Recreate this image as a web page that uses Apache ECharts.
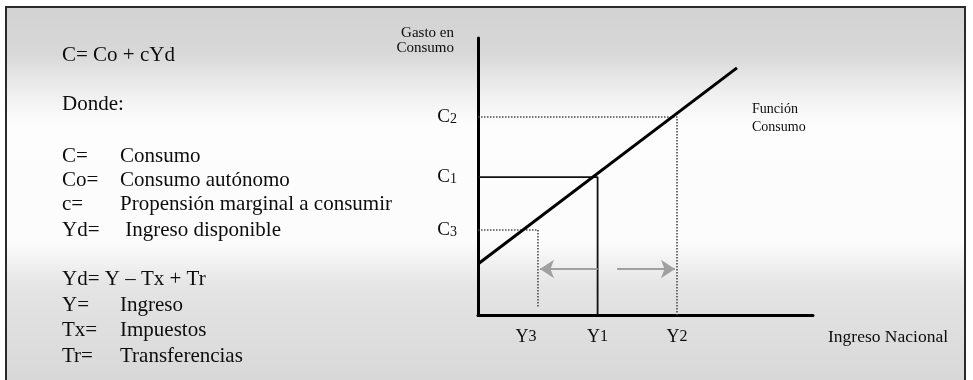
<!DOCTYPE html>
<html>
<head>
<meta charset="utf-8">
<script src="https://cdn.jsdelivr.net/npm/echarts@6/dist/echarts.min.js"></script>
<style>
  html, body { margin: 0; padding: 0; background: #ffffff; }
  #chart { width: 973px; height: 380px; }
</style>
</head>
<body>
<div id="chart"></div>
<script>
// ---- Data (in arbitrary 0-100 units) ----
const xLevelNames = ['Y3', 'Y1', 'Y2'];
const xLevels = [17.9, 35.7, 59.4];
const yLevelNames = ['C3', 'C1', 'C2'];
const yLevels = [30.7, 49.8, 71.5];
const consumptionLine = [[0, 18.4], [77.3, 89.2]];
const c1Guide = [[0, 49.8], [35.7, 49.8], [35.7, 0]];
const c2Guide = [[0, 71.5], [59.4, 71.5], [59.4, 0]];
const c3Guide = [[0, 30.7], [17.9, 30.7], [17.9, 2.9]];
const leftArrow = [[35.7, 16.6], [18.5, 16.6]];
const rightArrow = [[41.5, 16.6], [58.8, 16.6]];
const xAxisTitle = 'Ingreso Nacional';
const yAxisTitle = 'Gasto en\nConsumo';
const curveTitle = 'Función\nConsumo';

// ---- Text block on the left ----
const formulaMain = 'C= Co + cYd';
const dondeText = 'Donde:';
const defsA = [['C=', 'Consumo'], ['Co=', 'Consumo autónomo'], ['c=', 'Propensión marginal a consumir'], ['Yd=', ' Ingreso disponible']];
const formulaB = 'Yd= Y – Tx + Tr';
const defsB = [['Y=', 'Ingreso'], ['Tx=', 'Impuestos'], ['Tr=', 'Transferencias']];

const SERIF = "'Liberation Serif', 'Times New Roman', 'DejaVu Serif', serif";
const INK = '#0d0d0d';
const chart = echarts.init(document.getElementById('chart'), null, { renderer: 'canvas' });

function nearestIndex(v, levels) {
  let best = 0;
  for (let i = 1; i < levels.length; i++) {
    if (Math.abs(levels[i] - v) < Math.abs(levels[best] - v)) best = i;
  }
  return best;
}
function yName(v) {
  const n = yLevelNames[nearestIndex(v, yLevels)];
  return '{b|' + n.charAt(0) + '}{s|' + n.slice(1) + '}';
}
function xName(v) {
  const i = nearestIndex(v, xLevels);
  const n = xLevelNames[i];
  // first label sits a little left of its guide line in the reference
  return '{b|' + n.charAt(0) + '}{' + (i === 0 ? 'sl' : 's') + '|' + n.slice(1) + '}';
}

// layout of left text block
const textEls = [];
function addText(x, y, str) {
  textEls.push({
    type: 'text', x: x, y: y, z: 100,
    style: { text: str, font: '21px ' + SERIF, fill: INK, verticalAlign: 'middle', align: 'left' }
  });
}
addText(62, 55, formulaMain);
addText(62, 104, dondeText);
const rowsA = [156, 180.5, 204, 230];
defsA.forEach((d, i) => { addText(62, rowsA[i], d[0]); addText(120, rowsA[i], d[1]); });
addText(62, 279, formulaB);
const rowsB = [305, 330, 356];
defsB.forEach((d, i) => { addText(62, rowsB[i], d[0]); addText(120, rowsB[i], d[1]); });

textEls.push({
  type: 'text', x: 752, y: 100, z: 100,
  style: { text: curveTitle, font: '14px ' + SERIF, fill: INK, lineHeight: 18, verticalAlign: 'top', align: 'left' }
});

const background = {
  type: 'rect', z: -10,
  shape: { x: 6, y: 7, width: 959, height: 390 },
  style: {
    fill: new echarts.graphic.LinearGradient(0, 0, 0, 1, [
      { offset: 0, color: '#d2d2d2' },
      { offset: 0.12, color: '#d8d8d8' },
      { offset: 0.22, color: '#efefef' },
      { offset: 0.3, color: '#fdfdfd' },
      { offset: 0.6, color: '#fcfcfc' },
      { offset: 0.72, color: '#e4e4e4' },
      { offset: 1, color: '#d6d6d6' }
    ]),
    stroke: '#2a2a2a', lineWidth: 2
  }
};

const dotted = { color: '#4a4a4a', width: 1.6, type: [1.5, 1.5] };

chart.setOption({
  animation: false,
  backgroundColor: '#ffffff',
  graphic: [background].concat(textEls),
  grid: { left: 478, right: 160, top: 38, bottom: 65, containLabel: false },
  xAxis: {
    type: 'value', min: 0, max: 100,
    splitLine: { show: false },
    axisTick: { show: false },
    axisLine: { lineStyle: { color: '#000', width: 3 } },
    axisLabel: {
      customValues: xLevels,
      formatter: xName,
      margin: 13,
      rich: {
        b: { fontSize: 18, fontFamily: SERIF, color: INK },
        s: { fontSize: 16, fontFamily: SERIF, color: INK },
        sl: { fontSize: 16, fontFamily: SERIF, color: INK, padding: [0, 24, 0, 0] }
      }
    },
    name: xAxisTitle,
    nameLocation: 'end',
    nameGap: 15,
    nameTextStyle: { fontSize: 17.5, fontFamily: SERIF, color: INK, verticalAlign: 'top', padding: [13, 0, 0, 0] }
  },
  yAxis: {
    type: 'value', min: 0, max: 100,
    splitLine: { show: false },
    axisTick: { show: false },
    axisLine: { lineStyle: { color: '#000', width: 3 } },
    axisLabel: {
      customValues: yLevels,
      formatter: yName,
      margin: 21,
      rich: {
        b: { fontSize: 19, fontFamily: SERIF, color: INK },
        s: { fontSize: 14, fontFamily: SERIF, color: INK, padding: [5, 0, 0, 0] }
      }
    },
    name: yAxisTitle,
    nameLocation: 'end',
    nameGap: 12,
    nameTextStyle: { fontSize: 15, lineHeight: 15, fontFamily: SERIF, color: INK, align: 'right', verticalAlign: 'top', padding: [0, 24, 0, 0] }
  },
  series: [
    { type: 'line', data: c2Guide, symbol: 'none', lineStyle: dotted, z: 3 },
    { type: 'line', data: c3Guide, symbol: 'none', lineStyle: dotted, z: 3 },
    { type: 'line', data: c1Guide, symbol: 'none', lineStyle: { color: '#111', width: 1.8 }, z: 3 },
    { type: 'line', data: consumptionLine, symbol: 'none', lineStyle: { color: '#000', width: 3 }, z: 4 },
    {
      type: 'lines', coordinateSystem: 'cartesian2d', z: 5,
      symbol: ['none', 'arrow'], symbolSize: [15, 14],
      lineStyle: { color: '#a0a0a0', width: 2, opacity: 1 },
      data: [{ coords: leftArrow }, { coords: rightArrow }]
    }
  ]
});
</script>
</body>
</html>
